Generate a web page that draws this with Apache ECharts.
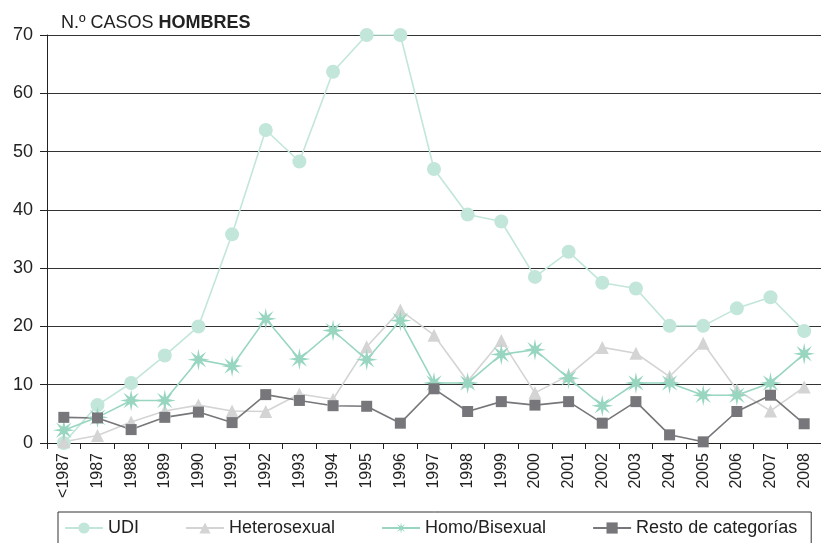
<!DOCTYPE html>
<html>
<head>
<meta charset="utf-8">
<script src="https://cdn.jsdelivr.net/npm/echarts@6/dist/echarts.min.js"></script>
<style>
  html, body { margin: 0; padding: 0; background: #fff; }
  #chart { width: 821px; height: 543px; }
</style>
</head>
<body>
<div id="chart"></div>
<script>
var categories = ['<1987', '1987', '1988', '1989', '1990', '1991', '1992', '1993', '1994', '1995', '1996',
  '1997', '1998', '1999', '2000', '2001', '2002', '2003', '2004', '2005', '2006', '2007', '2008'];

var udi = [0, 6.5, 10.3, 15, 20, 35.8, 53.7, 48.3, 63.7, 70, 70,
  47, 39.2, 38, 28.5, 32.8, 27.5, 26.5, 20.1, 20.1, 23.1, 25, 19.2];
var hetero = [0.2, 1.3, 3.6, 5.5, 6.5, 5.5, 5.4, 8.4, 7.5, 16.5, 22.8,
  18.5, 10.6, 17.6, 8.6, 11.6, 16.4, 15.4, 11.4, 17.1, 9.1, 5.5, 9.6];
var homo = [2.2, 4.4, 7.3, 7.3, 14.3, 13.2, 21.3, 14.4, 19.3, 14.3, 21,
  10.3, 10.3, 15.2, 16, 11.1, 6.4, 10.3, 10.3, 8.2, 8.2, 10.3, 15.3];
var resto = [4.4, 4.3, 2.3, 4.4, 5.3, 3.5, 8.3, 7.3, 6.4, 6.3, 3.4,
  9.3, 5.4, 7.1, 6.5, 7.1, 3.4, 7.1, 1.4, 0.2, 5.4, 8.2, 3.3];

var yTicks = { min: 0, max: 70, step: 10 };

// 8-pointed star shape for Homo/Bisexual
function starPath() {
  var pts = [];
  for (var i = 0; i < 16; i++) {
    var r = i % 2 === 0 ? 10 : 3.4;
    var a = Math.PI / 8 * i - Math.PI / 2;
    pts.push((10 + r * Math.cos(a)).toFixed(2) + ' ' + (10 + r * Math.sin(a)).toFixed(2));
  }
  return 'path://M' + pts.join(' L') + ' Z';
}

var chart = echarts.init(document.getElementById('chart'));
var font = 'Liberation Sans, Arial, sans-serif';

chart.setOption({
  animation: false,
  textStyle: { fontFamily: font },
  title: {
    text: 'N.º CASOS {b|HOMBRES}',
    left: 56,
    top: 9,
    textStyle: {
      fontSize: 18,
      fontWeight: 'normal',
      color: '#222',
      fontFamily: font,
      rich: { b: { fontSize: 18, fontWeight: 'bold', color: '#222', fontFamily: font } }
    }
  },
  grid: { left: 47, right: -7, top: 35, bottom: 100 },
  legend: {
    bottom: -8,
    left: 58,
    width: 757,
    padding: [7, 14, 14, 6],
    itemGap: 46,
    itemWidth: 38,
    itemHeight: 14,
    borderColor: '#333',
    borderWidth: 1,
    textStyle: { fontSize: 18, color: '#222', fontFamily: font },
    data: ['UDI', 'Heterosexual', 'Homo/Bisexual', 'Resto de categorías']
  },
  xAxis: {
    type: 'category',
    data: categories,
    boundaryGap: true,
    axisLine: { lineStyle: { color: '#222', width: 1 } },
    axisTick: { show: true, interval: 0, length: 6, lineStyle: { color: '#222' } },
    axisLabel: { rotate: 90, interval: 0, fontSize: 16, color: '#222', margin: 10 }
  },
  yAxis: {
    type: 'value',
    min: yTicks.min,
    max: yTicks.max,
    interval: yTicks.step,
    axisLine: { show: true, lineStyle: { color: '#222', width: 1 } },
    axisTick: { show: true, length: 7, lineStyle: { color: '#222' } },
    axisLabel: { fontSize: 18, color: '#222', margin: 14 },
    splitLine: { lineStyle: { color: '#333', width: 1 } }
  },
  series: [
    {
      name: 'UDI', type: 'line', data: udi,
      symbol: 'circle', symbolSize: 14,
      lineStyle: { color: '#c2e6d9', width: 1.6 },
      itemStyle: { color: '#c2e6d9' }
    },
    {
      name: 'Heterosexual', type: 'line', data: hetero,
      symbol: 'triangle', symbolSize: 13,
      lineStyle: { color: '#d4d4d4', width: 1.6 },
      itemStyle: { color: '#d4d4d4' }
    },
    {
      name: 'Homo/Bisexual', type: 'line', data: homo,
      symbol: starPath(), symbolSize: 22,
      lineStyle: { color: '#98d6c0', width: 1.6 },
      itemStyle: { color: '#98d6c0' }
    },
    {
      name: 'Resto de categorías', type: 'line', data: resto,
      symbol: 'rect', symbolSize: 11,
      lineStyle: { color: '#77777b', width: 1.6 },
      itemStyle: { color: '#77777b' }
    }
  ]
});
</script>
</body>
</html>
